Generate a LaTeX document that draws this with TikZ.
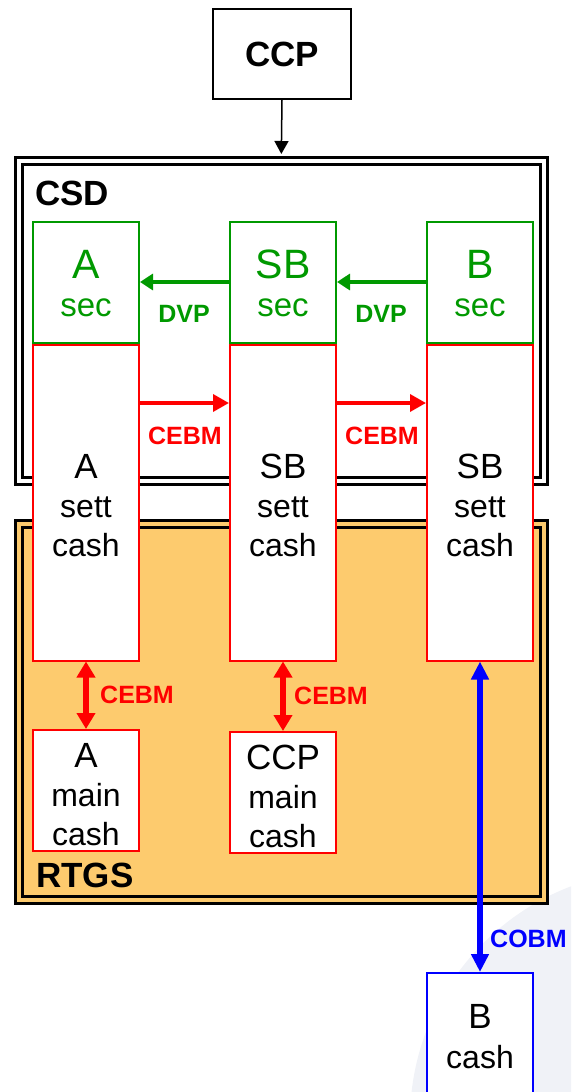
\documentclass[tikz,border=0pt]{standalone}
\usepackage{fontspec}
\setmainfont{Liberation Sans}
\usetikzlibrary{arrows.meta}
\definecolor{ggreen}{RGB}{0,153,0}
\definecolor{rtgsfill}{RGB}{253,203,110}
\definecolor{glow}{RGB}{240,242,247}
\begin{document}
\begin{tikzpicture}[x=1pt,y=-1pt,
  frame/.style={draw=black,line width=3pt,double distance=4pt,inner sep=0pt},
  box/.style={draw,line width=2pt,fill=white,minimum width=106pt,inner sep=0pt},
  secbox/.style={box,draw=ggreen,minimum height=121pt},
  settbox/.style={box,draw=red,minimum height=316pt},
  cashbox/.style={box,draw=red,minimum height=121pt},
  bigtxt/.style={anchor=base,inner sep=0pt,font=\fontsize{35}{39}\selectfont},
  smalltxt/.style={anchor=base,inner sep=0pt,font=\fontsize{32}{39}\selectfont},
  gbig/.style={anchor=base,inner sep=0pt,text=ggreen,font=\fontsize{41}{41}\selectfont},
  gsmall/.style={anchor=base,inner sep=0pt,text=ggreen,font=\fontsize{33}{39}\selectfont},
  title/.style={anchor=base west,inner sep=0pt,font=\bfseries\fontsize{35}{35}\selectfont},
  lbl/.style={inner sep=0pt,font=\bfseries\fontsize{25}{25}\selectfont},
  garrow/.style={draw=ggreen,line width=3.5pt,-{Triangle[length=13pt,width=16pt]}},
  rarrow/.style={draw=red,line width=3.5pt,-{Triangle[length=16pt,width=17pt]}},
  rdarrow/.style={draw=red,line width=6pt,{Triangle[length=16pt,width=18pt]}-{Triangle[length=16pt,width=18pt]}},
  barrow/.style={draw=blue,line width=6pt,{Triangle[length=18pt,width=17pt]}-{Triangle[length=18pt,width=17pt]}},
  karrow/.style={draw=black,line width=1.5pt,-{Triangle[length=13pt,width=14pt]}}
]
\useasboundingbox (0,0) rectangle (571,1092);
\clip (0,0) rectangle (571,1092);

% faint background glow
\fill[glow] (660,1120) circle[radius=250pt];

% frames
\node[frame,double=white,minimum width=524.5pt,minimum height=319.5pt] (csd) at (281.25,320.75) {};
\node[frame,double=rtgsfill,fill=rtgsfill,minimum width=524.5pt,minimum height=375.5pt] (rtgs) at (281.25,711.75) {};
\node[title] (csdlbl) at (35,205) {CSD};
\node[title] (rtgslbl) at (36,887) {RTGS};

% CCP
\node[draw=black,line width=1.5pt,fill=white,minimum width=138pt,minimum height=90pt,inner sep=0pt,font=\bfseries\fontsize{35}{35}\selectfont] (ccp) at (282,54) {CCP};

% securities boxes
\node[secbox] (asec) at (86,282.5) {};
\node[secbox] (sbsec) at (283,282.5) {};
\node[secbox] (bsec) at (480,282.5) {};

% settlement cash boxes
\node[settbox] (asett) at (86,502.5) {};
\node[settbox] (sbsett) at (283,502.5) {};
\node[settbox] (bsett) at (480,502.5) {};

% main cash boxes
\node[cashbox] (amain) at (86,790.5) {};
\node[cashbox] (ccpmain) at (283,792.5) {};
\node[box,draw=blue,minimum height=127pt] (bcash) at (480,1036.5) {};

% texts in securities boxes
\node[gbig] (asecA) at (86,278) {A};
\node[gsmall] (asecB) at (86,316) {sec};
\node[gbig] (sbsecA) at (283,278) {SB};
\node[gsmall] (sbsecB) at (283,316) {sec};
\node[gbig] (bsecA) at (480,278) {B};
\node[gsmall] (bsecB) at (480,316) {sec};

% texts in settlement boxes
\node[bigtxt] (asettA) at (86,478) {A};
\node[smalltxt] (asettB) at (86,517) {sett};
\node[smalltxt] (asettC) at (86,556) {cash};
\node[bigtxt] (sbsettA) at (283,478) {SB};
\node[smalltxt] (sbsettB) at (283,517) {sett};
\node[smalltxt] (sbsettC) at (283,556) {cash};
\node[bigtxt] (bsettA) at (480,478) {SB};
\node[smalltxt] (bsettB) at (480,517) {sett};
\node[smalltxt] (bsettC) at (480,556) {cash};

% texts in main cash boxes
\node[bigtxt] (amainA) at (86,767) {A};
\node[smalltxt] (amainB) at (86,806) {main};
\node[smalltxt] (amainC) at (86,845) {cash};
\node[bigtxt] (ccpmainA) at (283,769) {CCP};
\node[smalltxt] (ccpmainB) at (283,808) {main};
\node[smalltxt] (ccpmainC) at (283,847) {cash};
\node[bigtxt] (bcashA) at (480,1028) {B};
\node[smalltxt] (bcashB) at (480,1068) {cash};

% connectors
\draw[karrow,shorten >=5.5pt] (ccp.south) -- (csd.north);

\coordinate (dvpy) at (0,282);
\draw[garrow] (sbsec.west |- dvpy) -- (asec.east |- dvpy);
\draw[garrow] (bsec.west |- dvpy) -- (sbsec.east |- dvpy);
\node[lbl,text=ggreen,anchor=base] (dvp1) at (184,322) {DVP};
\node[lbl,text=ggreen,anchor=base] (dvp2) at (381,322) {DVP};

\coordinate (cebmy) at (0,403);
\draw[rarrow] (asett.east |- cebmy) -- (sbsett.west |- cebmy);
\draw[rarrow] (sbsett.east |- cebmy) -- (bsett.west |- cebmy);
\node[lbl,text=red,anchor=base] (cebm1) at (185,444) {CEBM};
\node[lbl,text=red,anchor=base] (cebm2) at (382,444) {CEBM};

\draw[rdarrow] (asett.south) -- (amain.north);
\draw[rdarrow] (sbsett.south) -- (ccpmain.north);
\node[lbl,text=red,anchor=base west] (cebm3) at (100,703) {CEBM};
\node[lbl,text=red,anchor=base west] (cebm4) at (294,704) {CEBM};

\draw[barrow] (bsett.south) -- (bcash.north);
\node[lbl,text=blue,anchor=base west] (cobm) at (490,947) {COBM};
\end{tikzpicture}
\end{document}
